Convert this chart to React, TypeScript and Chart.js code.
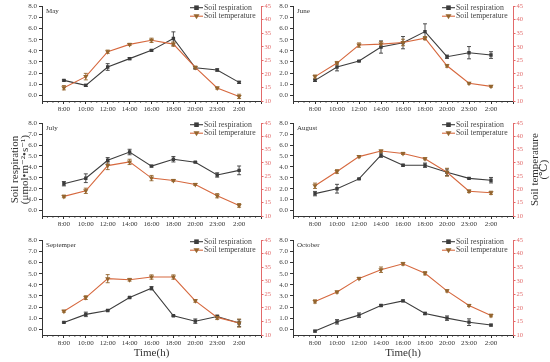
import React, { useEffect, useRef } from 'react';
import { Chart, registerables } from 'chart.js';
Chart.register(...registerables);

const timeLabels = ['8:00', '10:00', '12:00', '14:00', '16:00', '18:00', '20:00', '23:00', '2:00'];
const monthNames = ['May', 'June', 'July', 'August', 'Septemper', 'October'];

const respMay = [1.35, 0.9, 2.55, 3.3, 4.04, 5.1, 2.48, 2.28, 1.17];
const respMayErr = [0.06, 0.1, 0.3, 0.1, 0.06, 0.6, 0.1, 0.1, 0.1];
const tempMay = [14.9, 19.0, 28.2, 30.9, 32.4, 31.0, 22.4, 14.8, 11.7];
const tempMayErr = [0.8, 1.2, 0.6, 0.4, 0.8, 0.8, 0.5, 0.4, 0.8];

const respJune = [1.35, 2.55, 3.08, 4.34, 4.73, 5.72, 3.47, 3.83, 3.62];
const respJuneErr = [0.1, 0.35, 0.05, 0.55, 0.55, 0.7, 0.15, 0.55, 0.3];
const tempJune = [19.0, 24.0, 30.65, 31.0, 31.6, 33.2, 23.0, 16.55, 15.4];
const tempJuneErr = [0.6, 0.6, 0.8, 0.9, 1.2, 0.6, 0.5, 0.3, 0.3];

const respJuly = [2.46, 2.96, 4.6, 5.36, 4.07, 4.7, 4.43, 3.26, 3.68];
const respJulyErr = [0.2, 0.4, 0.25, 0.25, 0.08, 0.25, 0.05, 0.2, 0.4];
const tempJuly = [17.4, 19.5, 29.0, 30.4, 24.3, 23.4, 21.9, 17.65, 14.0];
const tempJulyErr = [0.5, 1.0, 1.5, 1.0, 1.0, 0.4, 0.4, 0.8, 0.7];

const respAug = [1.55, 2.0, 2.9, 5.07, 4.15, 4.15, 3.5, 2.95, 2.78];
const respAugErr = [0.2, 0.4, 0.05, 0.2, 0.08, 0.2, 0.3, 0.05, 0.25];
const tempAug = [21.4, 26.8, 32.4, 34.5, 33.6, 31.6, 26.5, 19.35, 18.75];
const tempAugErr = [1.0, 0.7, 0.4, 0.4, 0.4, 0.4, 1.5, 0.5, 0.6];

const respSep = [0.63, 1.35, 1.7, 2.86, 3.69, 1.22, 0.74, 1.16, 0.57];
const respSepErr = [0.05, 0.2, 0.05, 0.05, 0.15, 0.05, 0.2, 0.1, 0.3];
const tempSep = [18.8, 23.8, 30.8, 30.4, 31.4, 31.4, 22.6, 16.5, 14.4];
const tempSepErr = [0.4, 0.7, 1.5, 0.5, 0.8, 0.8, 0.5, 0.8, 1.5];

const respOct = [-0.15, 0.68, 1.28, 2.14, 2.56, 1.43, 1.01, 0.65, 0.39];
const respOctErr = [0.08, 0.2, 0.2, 0.08, 0.08, 0.1, 0.2, 0.3, 0.08];
const tempOct = [22.4, 25.9, 30.9, 34.1, 36.3, 32.8, 26.3, 20.9, 17.2];
const tempOctErr = [0.6, 0.4, 0.4, 1.0, 0.5, 0.6, 0.4, 0.4, 0.5];

const respSeries = [respMay, respJune, respJuly, respAug, respSep, respOct];
const respErrSeries = [respMayErr, respJuneErr, respJulyErr, respAugErr, respSepErr, respOctErr];
const tempSeries = [tempMay, tempJune, tempJuly, tempAug, tempSep, tempOct];
const tempErrSeries = [tempMayErr, tempJuneErr, tempJulyErr, tempAugErr, tempSepErr, tempOctErr];

const respLabel = 'Soil respiration';
const tempLabel = 'Soil temperature';
const leftTitle = ['Soil respiration', '(\u03bcmol\u2022m\u207b\u00b2\u2022s\u207b\u00b9)'];
const rightTitle = ['Soil temperature', '(\u2103)'];
const xTitle = 'Time(h)';

const RESP_COLOR = '#3c3c3c';
const TEMP_LINE = '#d6683e';
const TEMP_MARK = '#94652e';
const RIGHT_AXIS = '#e26a6a';
const SERIF = '"Liberation Serif", "DejaVu Serif", serif';

const ROWS = [
  { y: 0, h: 117, pad: 5, xh: 16 },
  { y: 117, h: 117, pad: 6, xh: 18 },
  { y: 234, h: 128, pad: 6, xh: 27 },
];
const COLS = [
  { x: 0, w: 275, lw: 42, rw: 14 },
  { x: 275, w: 275, lw: 18, rw: 37 },
];

type PanelProps = {
  idx: number;
  row: number;
  col: number;
};

function drawMarker(ctx: CanvasRenderingContext2D, kind: string, x: number, y: number, color: string) {
  ctx.fillStyle = color;
  if (kind === 'rect') {
    ctx.fillRect(x - 2.3, y - 2.3, 4.6, 4.6);
  } else {
    ctx.beginPath();
    ctx.moveTo(x - 3, y - 2);
    ctx.lineTo(x + 3, y - 2);
    ctx.lineTo(x, y + 3);
    ctx.closePath();
    ctx.fill();
  }
}

function Panel({ idx, row, col }: PanelProps) {
  const ref = useRef<HTMLCanvasElement>(null);
  const R = ROWS[row];
  const C = COLS[col];
  useEffect(() => {
    const canvas = ref.current;
    if (!canvas) return;
    const resp = respSeries[idx];
    const temp = tempSeries[idx];
    const decor = {
      id: 'decor',
      beforeDatasetsDraw(chart: any) {
        const ctx = chart.ctx as CanvasRenderingContext2D;
        chart.data.datasets.forEach((ds: any, di: number) => {
          const meta = chart.getDatasetMeta(di);
          const ys = chart.scales[ds.yAxisID];
          ctx.save();
          ctx.strokeStyle = ds.errColor;
          ctx.lineWidth = 0.9;
          meta.data.forEach((pt: any, i: number) => {
            const v = ds.data[i].y;
            const e = ds.errors[i];
            const t = ys.getPixelForValue(v + e);
            const b = ys.getPixelForValue(v - e);
            const x = pt.x;
            ctx.beginPath();
            ctx.moveTo(x, t); ctx.lineTo(x, b);
            ctx.moveTo(x - 2, t); ctx.lineTo(x + 2, t);
            ctx.moveTo(x - 2, b); ctx.lineTo(x + 2, b);
            ctx.stroke();
          });
          ctx.restore();
        });
      },
      afterDraw(chart: any) {
        const ctx = chart.ctx as CanvasRenderingContext2D;
        const { left, right, top, bottom } = chart.chartArea;
        const xs = chart.scales.x;
        ctx.save();
        ctx.strokeStyle = '#333';
        ctx.lineWidth = 0.8;
        ctx.beginPath();
        for (let k = -4; k <= 36; k++) {
          if (k % 4 === 0) continue;
          const px = xs.getPixelForValue(k / 4);
          ctx.moveTo(px, bottom);
          ctx.lineTo(px, bottom + 1.8);
        }
        ctx.stroke();
        ctx.fillStyle = '#333';
        ctx.font = `7px ${SERIF}`;
        ctx.textAlign = 'left';
        ctx.textBaseline = 'middle';
        ctx.fillText(monthNames[idx], left + 4, top + 4.5);
        const tx = right - 57;
        const rows = [
          { y: top + 1.5, line: RESP_COLOR, mark: RESP_COLOR, kind: 'rect', text: respLabel },
          { y: top + 10, line: TEMP_LINE, mark: TEMP_MARK, kind: 'tri', text: tempLabel },
        ];
        ctx.font = `7.8px ${SERIF}`;
        rows.forEach((r) => {
          ctx.strokeStyle = r.line;
          ctx.lineWidth = 1.1;
          ctx.beginPath();
          ctx.moveTo(tx - 14, r.y);
          ctx.lineTo(tx - 1, r.y);
          ctx.stroke();
          drawMarker(ctx, r.kind, tx - 7.5, r.y, r.mark);
          ctx.fillStyle = '#444';
          ctx.fillText(r.text, tx, r.y);
        });
        const cy = (top + bottom) / 2;
        ctx.font = `11px ${SERIF}`;
        ctx.fillStyle = '#333';
        ctx.textAlign = 'center';
        if (row === 1 && col === 0) {
          leftTitle.forEach((t, i) => {
            ctx.save();
            ctx.translate(left - 27 + i * 10, cy);
            ctx.rotate(-Math.PI / 2);
            ctx.fillText(t, 0, 0);
            ctx.restore();
          });
        }
        if (row === 1 && col === 1) {
          rightTitle.forEach((t, i) => {
            ctx.save();
            ctx.translate(right + 22 + i * 9, cy);
            ctx.rotate(-Math.PI / 2);
            ctx.fillText(t, 0, 0);
            ctx.restore();
          });
        }
        ctx.restore();
      },
    };
    const chart = new Chart(canvas, {
      type: 'line',
      data: {
        datasets: [
          {
            label: respLabel,
            data: resp.map((v, i) => ({ x: i, y: v })),
            yAxisID: 'y',
            borderColor: RESP_COLOR,
            backgroundColor: RESP_COLOR,
            borderWidth: 1.1,
            pointStyle: 'rect',
            pointRadius: 2.4,
            pointBorderWidth: 0,
            pointBackgroundColor: RESP_COLOR,
            errors: respErrSeries[idx],
            errColor: RESP_COLOR,
            order: 2,
          } as any,
          {
            label: tempLabel,
            data: temp.map((v, i) => ({ x: i, y: v })),
            yAxisID: 'y1',
            borderColor: TEMP_LINE,
            backgroundColor: TEMP_MARK,
            borderWidth: 1.1,
            pointStyle: 'triangle',
            rotation: 180,
            pointRadius: 3,
            pointBorderWidth: 0,
            pointBackgroundColor: TEMP_MARK,
            errors: tempErrSeries[idx],
            errColor: TEMP_MARK,
            order: 1,
          } as any,
        ],
      },
      options: {
        responsive: false,
        animation: false,
        layout: { padding: { top: R.pad, left: 0, right: 0, bottom: 0 } },
        plugins: { legend: { display: false }, tooltip: { enabled: false } },
        scales: {
          x: {
            type: 'linear',
            min: -1,
            max: 9,
            afterFit: (s: any) => { s.height = R.xh; },
            ticks: {
              stepSize: 1,
              autoSkip: false,
              maxRotation: 0,
              padding: 1,
              color: '#333',
              font: { family: SERIF, size: 7 },
              callback: (v: any) => (timeLabels[v] !== undefined ? timeLabels[v] : ''),
            },
            grid: { drawOnChartArea: false, drawTicks: true, tickLength: 3, color: '#333' },
            border: { display: true, color: '#333', width: 1 },
            title: {
              display: row === 2,
              text: xTitle,
              color: '#333',
              font: { family: SERIF, size: 11 },
              padding: { top: 0, bottom: 2 },
            },
          },
          y: {
            type: 'linear',
            position: 'left',
            min: -0.5,
            max: 8,
            afterFit: (s: any) => { s.width = C.lw; },
            ticks: {
              stepSize: 1,
              autoSkip: false,
              includeBounds: false,
              padding: 2,
              color: '#444',
              font: { family: SERIF, size: 7 },
              callback: (v: any) => (Number.isInteger(v) ? Number(v).toFixed(1) : ''),
            },
            grid: { drawOnChartArea: false, drawTicks: true, tickLength: 3, color: '#333' },
            border: { display: true, color: '#333', width: 1 },
          },
          y1: {
            type: 'linear',
            position: 'right',
            min: 10,
            max: 45,
            afterFit: (s: any) => { s.width = C.rw; },
            ticks: {
              stepSize: 5,
              autoSkip: false,
              padding: 1,
              color: RIGHT_AXIS,
              font: { family: SERIF, size: 6.5 },
            },
            grid: { drawOnChartArea: false, drawTicks: true, tickLength: 2.5, color: RIGHT_AXIS },
            border: { display: true, color: RIGHT_AXIS, width: 1 },
          },
        },
      } as any,
      plugins: [decor],
    });
    return () => chart.destroy();
  }, [idx, row, col]);
  return (
    <canvas
      ref={ref}
      width={C.w}
      height={R.h}
      style={{ position: 'absolute', left: C.x, top: R.y, width: C.w, height: R.h }}
    />
  );
}

export default function App() {
  return (
    <div style={{ position: 'absolute', left: 0, top: 0, width: 550, height: 362, background: '#fff', overflow: 'hidden' }}>
      {monthNames.map((m, i) => (
        <Panel key={m} idx={i} row={Math.floor(i / 2)} col={i % 2} />
      ))}
    </div>
  );
}
